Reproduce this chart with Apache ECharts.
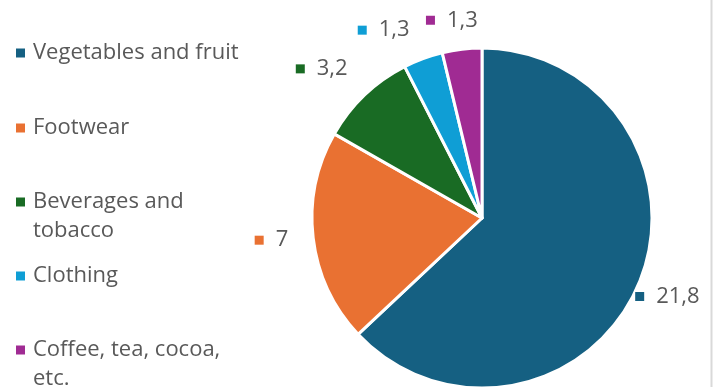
<!DOCTYPE html>
<html>
<head>
<meta charset="utf-8">
<script src="https://cdn.jsdelivr.net/npm/echarts@6/dist/echarts.min.js"></script>
<style>
  html, body { margin: 0; padding: 0; background: #fff; }
  #chart { width: 721px; height: 387px; }
</style>
</head>
<body>
<div id="chart"></div>
<script>
// data
var categories = ['Vegetables and fruit', 'Footwear', 'Beverages and tobacco', 'Clothing', 'Coffee, tea, cocoa, etc.'];
var legendText = ['Vegetables and fruit', 'Footwear', 'Beverages and\ntobacco', 'Clothing', 'Coffee, tea, cocoa,\netc.'];
var values = [21.8, 7, 3.2, 1.3, 1.3];
var colors = ['#156082', '#E97132', '#196B24', '#0F9ED5', '#A02B93'];

var FONT = 'Open Sans';
var TXT = '#595959';
var FS = 22;
var LH = 29;

// label nudges (px) so they sit where excel put them
var labelDx = [-17, -10, -5, -5, 22];
var labelDy = [7, 1, -19, -19, -19];

var myChart = echarts.init(document.getElementById('chart'));

// rich styles for the little coloured squares in front of the values
var rich = {
  v: { fontFamily: FONT, fontSize: FS, color: TXT, padding: [0, 0, 0, 12] }
};
colors.forEach(function (c, i) {
  rich['m' + i] = { width: 9, height: 9, backgroundColor: c };
});

// one legend per entry so the spacing matches excel
var legendCenters = [53, 128, 202, 276, 350];
var legends = categories.map(function (name, i) {
  var multi = legendText[i].indexOf('\n') >= 0;
  return {
    orient: 'vertical',
    left: 16,
    top: multi ? legendCenters[i] - LH * 1.5 : legendCenters[i] - LH / 2,
    padding: 0,
    itemWidth: 9,
    itemHeight: 9,
    icon: 'rect',
    selectedMode: false,
    data: [{ name: name, itemStyle: { color: colors[i], borderWidth: 0 } }],
    // leading blank line keeps the marker level with the first line
    formatter: function () { return multi ? '\n' + legendText[i] : legendText[i]; },
    textStyle: {
      fontFamily: FONT,
      fontSize: FS,
      color: TXT,
      lineHeight: LH,
      padding: [0, 0, 0, 3]
    }
  };
});

var option = {
  animation: false,
  legend: legends,
  graphic: [{
    type: 'line',
    shape: { x1: 711.5, y1: 0, x2: 711.5, y2: 387 },
    style: { stroke: '#d9d9d9', lineWidth: 2 }
  }],
  series: [{
    type: 'pie',
    center: [482, 218],
    radius: 170,
    startAngle: 90,
    clockwise: true,
    avoidLabelOverlap: false,
    itemStyle: { borderColor: '#fff', borderWidth: 3 },
    label: {
      show: true,
      position: 'outside',
      formatter: function (p) {
        return '{m' + p.dataIndex + '|}{v|' + String(p.value).replace('.', ',') + '}';
      },
      rich: rich
    },
    labelLine: { show: false, length: 10, length2: 0 },
    labelLayout: function (p) {
      return { dx: labelDx[p.dataIndex], dy: labelDy[p.dataIndex], hideOverlap: false };
    },
    data: categories.map(function (name, i) {
      return { name: name, value: values[i], itemStyle: { color: colors[i] } };
    })
  }]
};

myChart.setOption(option);
</script>
</body>
</html>
